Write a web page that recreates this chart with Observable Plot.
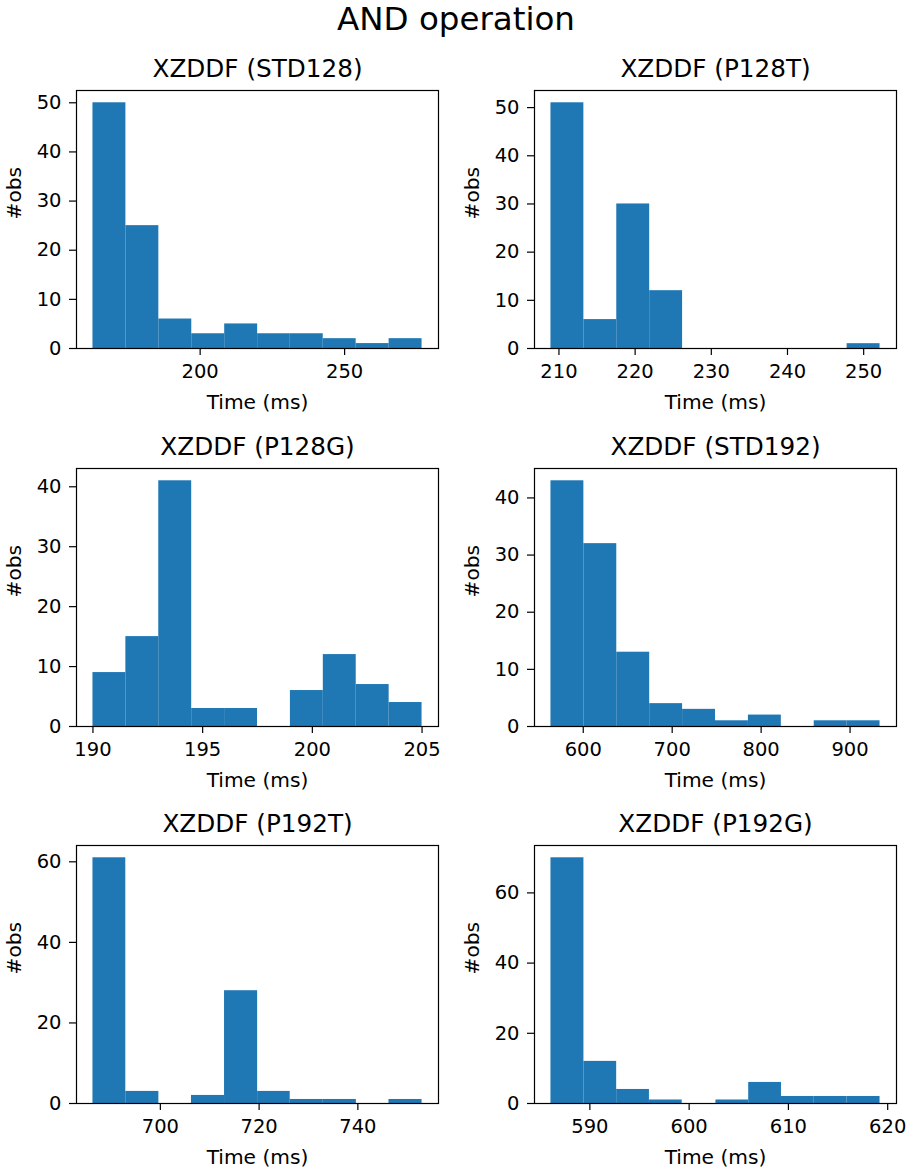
<!DOCTYPE html>
<html>
<head>
<meta charset="utf-8">
<script src="https://cdn.jsdelivr.net/npm/d3@7"></script>
<script src="https://cdn.jsdelivr.net/npm/@observablehq/plot@0.6"></script>
<style>
  body { margin: 0; background: #fff; font-family: "DejaVu Sans", sans-serif; }
  #fig { position: relative; width: 912px; height: 1169px; background: #fff; overflow: hidden; }
  #suptitle { position: absolute; left: 0; top: 0; width: 912px; text-align: center;
              font-size: 32.5px; line-height: normal; color: #000; }
  .panel { position: absolute; }
</style>
</head>
<body>
<div id="fig"><div id="suptitle">AND operation</div></div>
<script>
// ---- data ----
const figTitle = "AND operation";
const panelTitles = ["XZDDF (STD128)", "XZDDF (P128T)", "XZDDF (P128G)", "XZDDF (STD192)", "XZDDF (P192T)", "XZDDF (P192G)"];
const xLabel = "Time (ms)";
const yLabel = "#obs";

// bin edges (Time, ms) and counts per histogram
const edgesSTD128 = [162.9, 174.3, 185.7, 197.1, 208.5, 219.9, 231.2, 242.6, 254.0, 265.4, 276.8];
const countsSTD128 = [50, 25, 6, 3, 5, 3, 3, 2, 1, 2];
const edgesP128T = [208.95, 213.27, 217.59, 221.91, 226.23, 230.55, 234.87, 239.19, 243.51, 247.83, 252.15];
const countsP128T = [51, 6, 30, 12, 0, 0, 0, 0, 0, 1];
const edgesP128G = [190, 191.5, 193, 194.5, 196, 197.5, 199, 200.5, 202, 203.5, 205];
const countsP128G = [9, 15, 41, 3, 3, 0, 6, 12, 7, 4];
const edgesSTD192 = [563.7, 600.7, 637.7, 674.7, 711.7, 748.7, 785.7, 822.7, 859.7, 896.7, 933.7];
const countsSTD192 = [43, 32, 13, 4, 3, 1, 2, 0, 1, 1];
const edgesP192T = [686.35, 693.0, 699.7, 706.3, 713.0, 719.7, 726.3, 733.0, 739.7, 746.3, 753.0];
const countsP192T = [61, 3, 0, 2, 28, 3, 1, 1, 0, 1];
const edgesP192G = [586.08, 589.4, 592.7, 596.0, 599.3, 602.7, 606.0, 609.3, 612.6, 615.9, 619.23];
const countsP192G = [70, 12, 4, 1, 0, 1, 6, 2, 2, 2];

// tick values
const xTicksSTD128 = [200, 250];
const xTicksP128T = [210, 220, 230, 240, 250];
const xTicksP128G = [190, 195, 200, 205];
const xTicksSTD192 = [600, 700, 800, 900];
const xTicksP192T = [700, 720, 740];
const xTicksP192G = [590, 600, 610, 620];
const yTicksSTD128 = [0, 10, 20, 30, 40, 50];
const yTicksP128T = [0, 10, 20, 30, 40, 50];
const yTicksP128G = [0, 10, 20, 30, 40];
const yTicksSTD192 = [0, 10, 20, 30, 40];
const yTicksP192T = [0, 20, 40, 60];
const yTicksP192G = [0, 20, 40, 60];

// ---- layout ----
const panels = [
  {title: panelTitles[0], edges: edgesSTD128, counts: countsSTD128, xt: xTicksSTD128, yt: yTicksSTD128},
  {title: panelTitles[1], edges: edgesP128T, counts: countsP128T, xt: xTicksP128T, yt: yTicksP128T},
  {title: panelTitles[2], edges: edgesP128G, counts: countsP128G, xt: xTicksP128G, yt: yTicksP128G},
  {title: panelTitles[3], edges: edgesSTD192, counts: countsSTD192, xt: xTicksSTD192, yt: yTicksSTD192},
  {title: panelTitles[4], edges: edgesP192T, counts: countsP192T, xt: xTicksP192T, yt: yTicksP192T},
  {title: panelTitles[5], edges: edgesP192G, counts: countsP192G, xt: xTicksP192G, yt: yTicksP192G}
];
const colLeft = [76, 534];
const rowTop = [90, 467.7, 845.3];
const W = 362, H = 258;
const mL = 76, mR = 12, mT = 45, mB = 70;
const barColor = "#1f77b4";

document.getElementById("suptitle").textContent = figTitle;
const fig = document.getElementById("fig");

panels.forEach((p, i) => {
  const col = i % 2, row = Math.floor(i / 2);
  const bins = p.counts.map((c, k) => ({x0: p.edges[k], x1: p.edges[k + 1], count: c}));
  const lo = p.edges[0], hi = p.edges[p.edges.length - 1];
  const pad = (hi - lo) * 0.05;
  const ymax = d3.max(p.counts) * 1.05;
  const chart = Plot.plot({
    width: mL + W + mR,
    height: mT + H + mB,
    marginLeft: mL, marginRight: mR, marginTop: mT, marginBottom: mB,
    style: {fontFamily: "DejaVu Sans", fontSize: "19.5px", color: "#000", background: "transparent", overflow: "visible"},
    x: {domain: [lo - pad, hi + pad]},
    y: {domain: [0, ymax]},
    marks: [
      Plot.rectY(bins, {x1: "x0", x2: "x1", y: "count", fill: barColor, inset: 0}),
      Plot.frame({stroke: "#000", strokeWidth: 1.2}),
      Plot.axisX({ticks: p.xt, tickSize: 7, tickPadding: 9, label: null, fontSize: 19.5, strokeWidth: 1.2}),
      Plot.axisY({ticks: p.yt, tickSize: 7, tickPadding: 8, label: null, fontSize: 19.5, strokeWidth: 1.2}),
      Plot.text([p.title], {text: d => d, frameAnchor: "top", dy: -21, lineAnchor: "middle", fontSize: 24.7}),
      Plot.text([xLabel], {text: d => d, frameAnchor: "bottom", dy: 54, lineAnchor: "middle", fontSize: 20.2}),
      Plot.text([yLabel], {text: d => d, frameAnchor: "left", dx: -62, rotate: -90, lineAnchor: "middle", fontSize: 20.2})
    ]
  });
  const wrap = document.createElement("div");
  wrap.className = "panel";
  wrap.style.left = (colLeft[col] - mL) + "px";
  wrap.style.top = (rowTop[row] - mT) + "px";
  wrap.appendChild(chart);
  fig.appendChild(wrap);
});
</script>
</body>
</html>
